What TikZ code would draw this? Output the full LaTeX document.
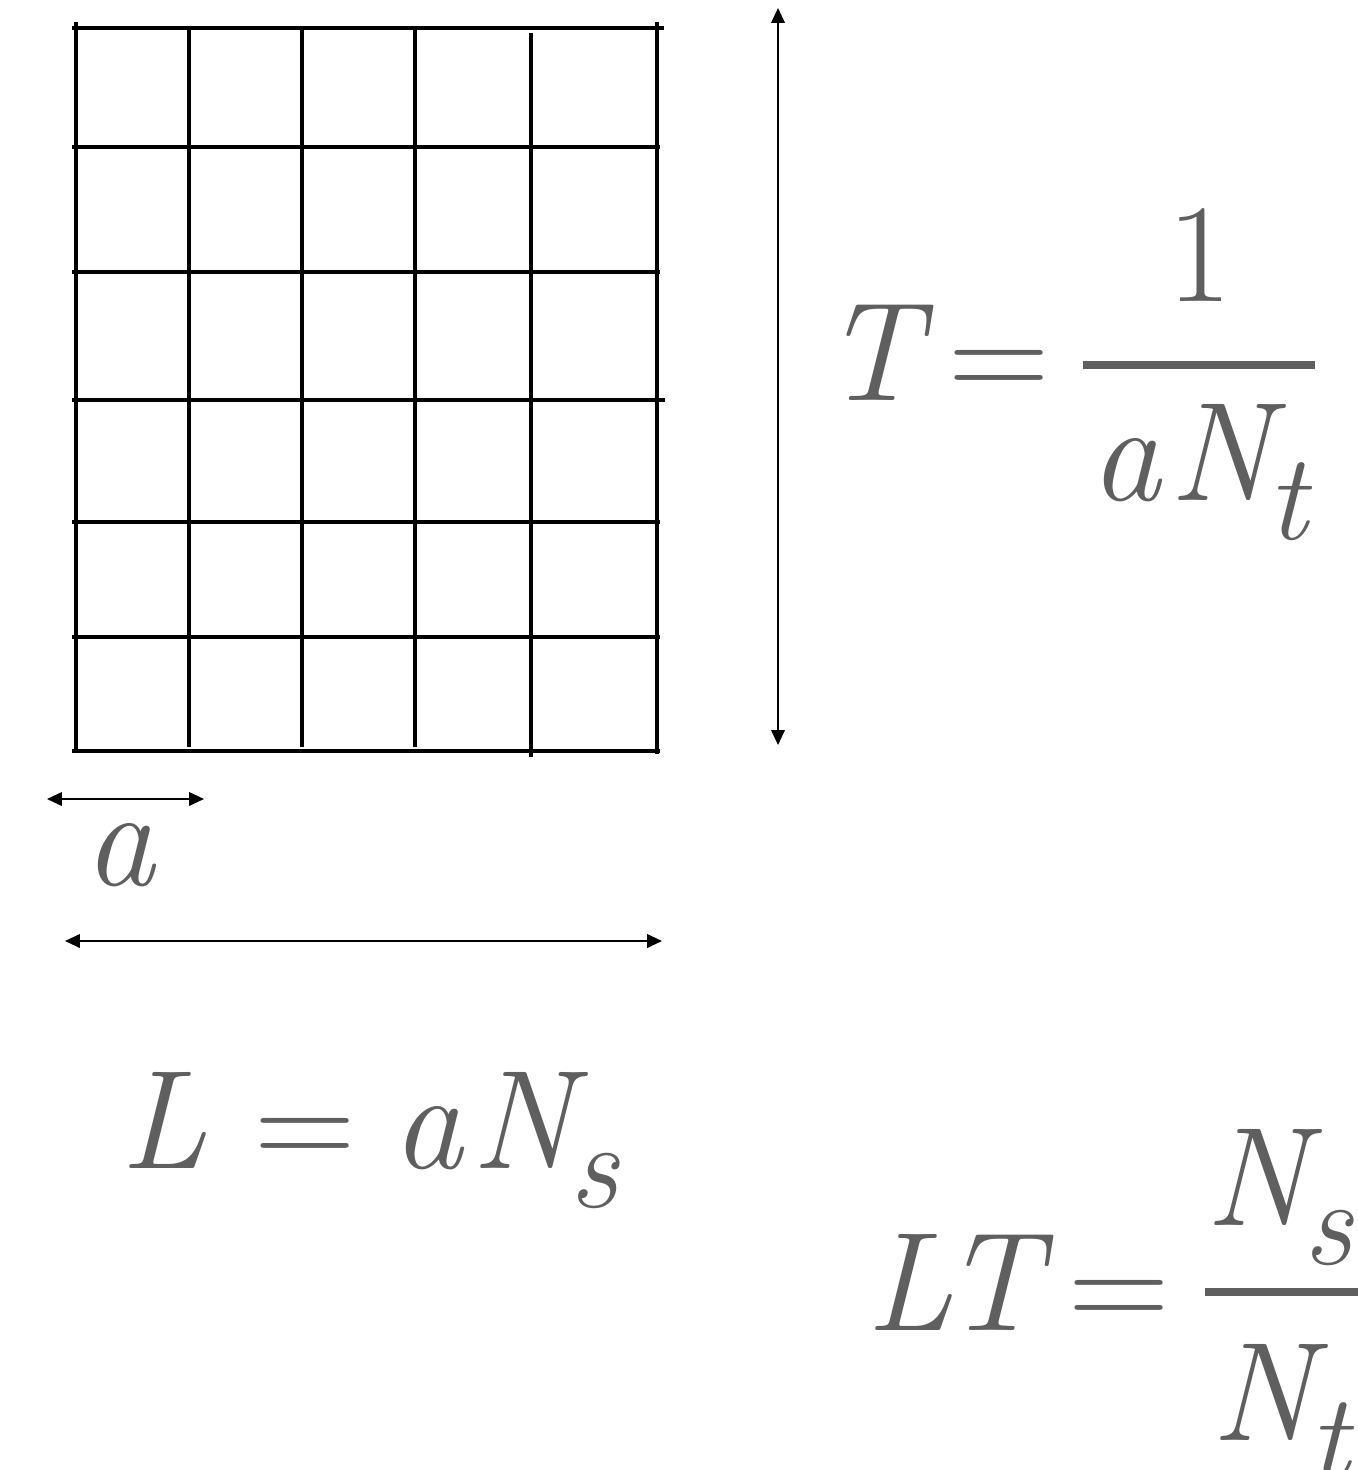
\documentclass[tikz,border=0pt]{standalone}
\usetikzlibrary{arrows.meta}
\definecolor{formula}{RGB}{95,95,95}
\tikzstyle{gridline} = [line width=1.3pt]
\tikzstyle{dim} = [line width=0.6pt, {Triangle[length=4.2pt,width=3.8pt]}-{Triangle[length=4.2pt,width=3.8pt]}]
\tikzstyle{sym} = [text=formula, inner sep=0pt, anchor=base west, font=\fontsize{40}{48}\selectfont\itshape]
\tikzstyle{rel} = [text=formula, inner sep=0pt, anchor=base, font=\fontsize{40}{48}\selectfont]
\tikzstyle{fracbar} = [draw=formula, line width=2.3pt]
\newcommand{\lowidx}[1]{\kern-0.03em\raisebox{-0.28em}{\fontsize{35}{40}\selectfont #1}}

\begin{document}
\begin{tikzpicture}[x=0.01cm,y=-0.01cm]
\useasboundingbox (0,0) rectangle (1358,1470);
% lattice
\draw[gridline] (72,28) -- (664,28);
\draw[gridline] (72,147) -- (660,147);
\draw[gridline] (72,272) -- (660,272);
\draw[gridline] (72,400) -- (665,400);
\draw[gridline] (72,522) -- (660,522);
\draw[gridline] (72,637) -- (660,637);
\draw[gridline] (72,751) -- (660,751);
\draw[gridline] (76,22) -- (76,753);
\draw[gridline] (189,28) -- (189,747);
\draw[gridline] (302,28) -- (302,747);
\draw[gridline] (415,28) -- (415,747);
\draw[gridline] (531,33) -- (531,757);
\draw[gridline] (657,22) -- (657,754);
% extents
\coordinate (ttop) at (778,8);
\coordinate (tbot) at (778,745);
\coordinate (aleft) at (47,799);
\coordinate (aright) at (204,799);
\coordinate (lleft) at (65,941);
\coordinate (lright) at (662,941);
\draw[dim] (ttop) -- (tbot);
\draw[dim] (aleft) -- (aright);
\draw[dim] (lleft) -- (lright);
\node[sym] (spacing) at (84,885) {a};
% T = 1/(a N_t)
\node[sym] (tlhs) at (822,400) {T};
\node[rel] (teq) at (999,400) {=};
\node[rel] (tnum) at (1200,302) {1};
\node[sym] (tden) at (1090,500) {a\hspace{0.06em}N\lowidx{t}};
\draw[fracbar] (1083,365) -- (1315,365);
% L = a N_s
\node[sym] (llhs) at (120,1168) {L};
\node[rel] (leq) at (305,1168) {=};
\node[sym] (lrhs) at (392,1168) {a\hspace{0.06em}N\lowidx{s}};
% L T = N_s / N_t
\node[sym] (ltlhs) at (866,1330) {LT};
\node[rel] (lteq) at (1119,1330) {=};
\node[sym] (ltnum) at (1205,1225) {N\lowidx{s}};
\node[sym] (ltden) at (1211,1440) {N\lowidx{t}};
\draw[fracbar] (1205,1292) -- (1358,1292);
\end{tikzpicture}
\end{document}
